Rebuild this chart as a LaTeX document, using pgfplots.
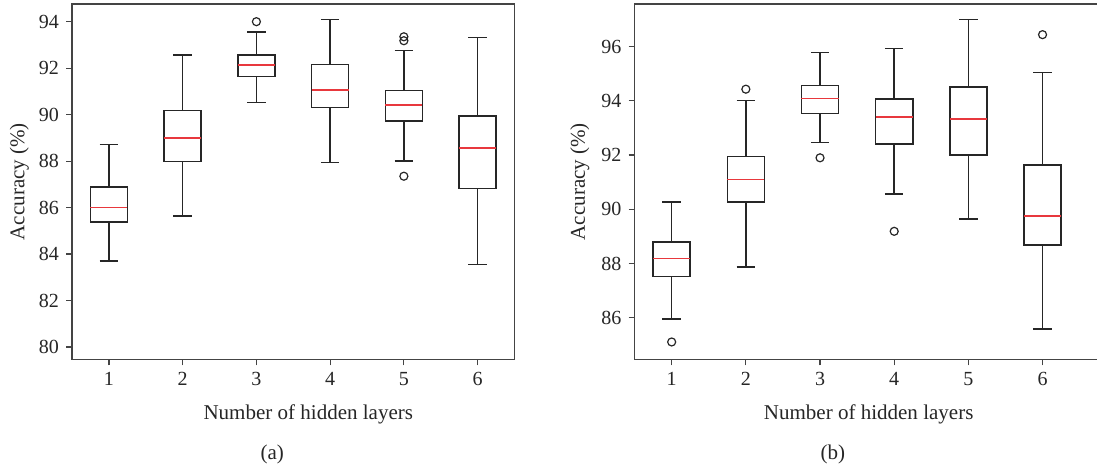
\documentclass[border=0pt]{standalone}
\usepackage{fontspec}
\setmainfont{Liberation Serif}
\usepackage{pgfplots}
\pgfplotsset{compat=1.18}
\usepgfplotslibrary{statistics}
\definecolor{boxc}{HTML}{262626}
\definecolor{medc}{HTML}{E8383D}
\definecolor{axc}{HTML}{444444}
\pgfplotsset{
  mybox/.style={
    scale only axis,
    xmin=0.5,
    xtick={1,2,3,4,5,6},
    tick align=outside,
    xtick pos=bottom, ytick pos=left,
    major tick length=3pt,
    tick style={axc, line width=0.6pt},
    axis line style={axc, line width=0.8pt},
    /pgf/number format/assume math mode=true,
    tick label style={font=\fontsize{10}{12}\selectfont, color=black!85},
    label style={font=\fontsize{10.5}{12}\selectfont, color=black!85},
    xlabel={Number of hidden layers},
    ylabel={Accuracy (\%)},
    boxplot/draw direction=y,
  },
  bx/.style={draw=boxc, solid, line width=0.75pt, mark=o, mark size=2pt, mark options={draw=boxc, line width=0.6pt},
    boxplot/box extend=0.5,
    boxplot/whisker extend=0.25,
    boxplot/every median/.style={draw=medc, line width=0.65pt}},
}
\begin{document}
\begin{tikzpicture}
\path[use as bounding box] (-36pt,-54.5pt) rectangle (512pt,179.5pt);
% (a)
\begin{axis}[mybox, name=A, at={(0pt,0pt)}, anchor=south west,
  width=221pt, height=177.5pt, xmax=6.5, ymin=79.47, ymax=94.76,
  ytick={80,82,84,86,88,90,92,94},
  xlabel style={at={(axis description cs:0.534,0)}, anchor=center, yshift=-27.5pt},
  ylabel style={at={(axis description cs:-0.119,0.5)}, anchor=center}]
\addplot[bx, boxplot prepared={draw position=1, lower whisker=83.70, lower quartile=85.38, median=85.99, upper quartile=86.88, upper whisker=88.72}] table[row sep=\\, y index=0] {\\};
\addplot[bx, boxplot prepared={draw position=2, lower whisker=85.63, lower quartile=87.98, median=89.00, upper quartile=90.17, upper whisker=92.56}] table[row sep=\\, y index=0] {\\};
\addplot[bx, boxplot prepared={draw position=3, lower whisker=90.52, lower quartile=91.65, median=92.13, upper quartile=92.56, upper whisker=93.55}] table[row sep=\\, y index=0] {94.00\\};
\addplot[bx, boxplot prepared={draw position=4, lower whisker=87.95, lower quartile=90.30, median=91.06, upper quartile=92.16, upper whisker=94.09}] table[row sep=\\, y index=0] {\\};
\addplot[bx, boxplot prepared={draw position=5, lower whisker=88.01, lower quartile=89.72, median=90.42, upper quartile=91.04, upper whisker=92.75}] table[row sep=\\, y index=0] {93.35\\ 93.18\\ 87.35\\};
\addplot[bx, boxplot prepared={draw position=6, lower whisker=83.55, lower quartile=86.82, median=88.56, upper quartile=89.95, upper whisker=93.31}] table[row sep=\\, y index=0] {\\};
\end{axis}
\node[font=\fontsize{10.5}{12}\selectfont, text=black!85] at (100pt,-47.5pt) {(a)};
% (b)
\begin{axis}[mybox, name=B, at={(281pt,0pt)}, anchor=south west,
  width=235.3pt, height=177.5pt, xmax=6.85, ymin=84.47, ymax=97.57,
  ytick={86,88,90,92,94,96},
  xlabel style={at={(axis description cs:0.497,0)}, anchor=center, yshift=-27.5pt},
  ylabel style={at={(axis description cs:-0.116,0.5)}, anchor=center}]
\addplot[bx, boxplot prepared={draw position=1, lower whisker=85.95, lower quartile=87.53, median=88.18, upper quartile=88.80, upper whisker=90.27}] table[row sep=\\, y index=0] {85.11\\};
\addplot[bx, boxplot prepared={draw position=2, lower whisker=87.88, lower quartile=90.27, median=91.10, upper quartile=91.95, upper whisker=94.02}] table[row sep=\\, y index=0] {94.43\\};
\addplot[bx, boxplot prepared={draw position=3, lower whisker=92.47, lower quartile=93.53, median=94.08, upper quartile=94.56, upper whisker=95.79}] table[row sep=\\, y index=0] {91.90\\};
\addplot[bx, boxplot prepared={draw position=4, lower whisker=90.56, lower quartile=92.40, median=93.40, upper quartile=94.06, upper whisker=95.93}] table[row sep=\\, y index=0] {89.19\\};
\addplot[bx, boxplot prepared={draw position=5, lower whisker=89.64, lower quartile=92.00, median=93.33, upper quartile=94.51, upper whisker=97.00}] table[row sep=\\, y index=0] {\\};
\addplot[bx, boxplot prepared={draw position=6, lower whisker=85.58, lower quartile=88.68, median=89.76, upper quartile=91.63, upper whisker=95.04}] table[row sep=\\, y index=0] {96.44\\};
\end{axis}
\node[font=\fontsize{10.5}{12}\selectfont, text=black!85] at (380pt,-47.5pt) {(b)};
\end{tikzpicture}
\end{document}
